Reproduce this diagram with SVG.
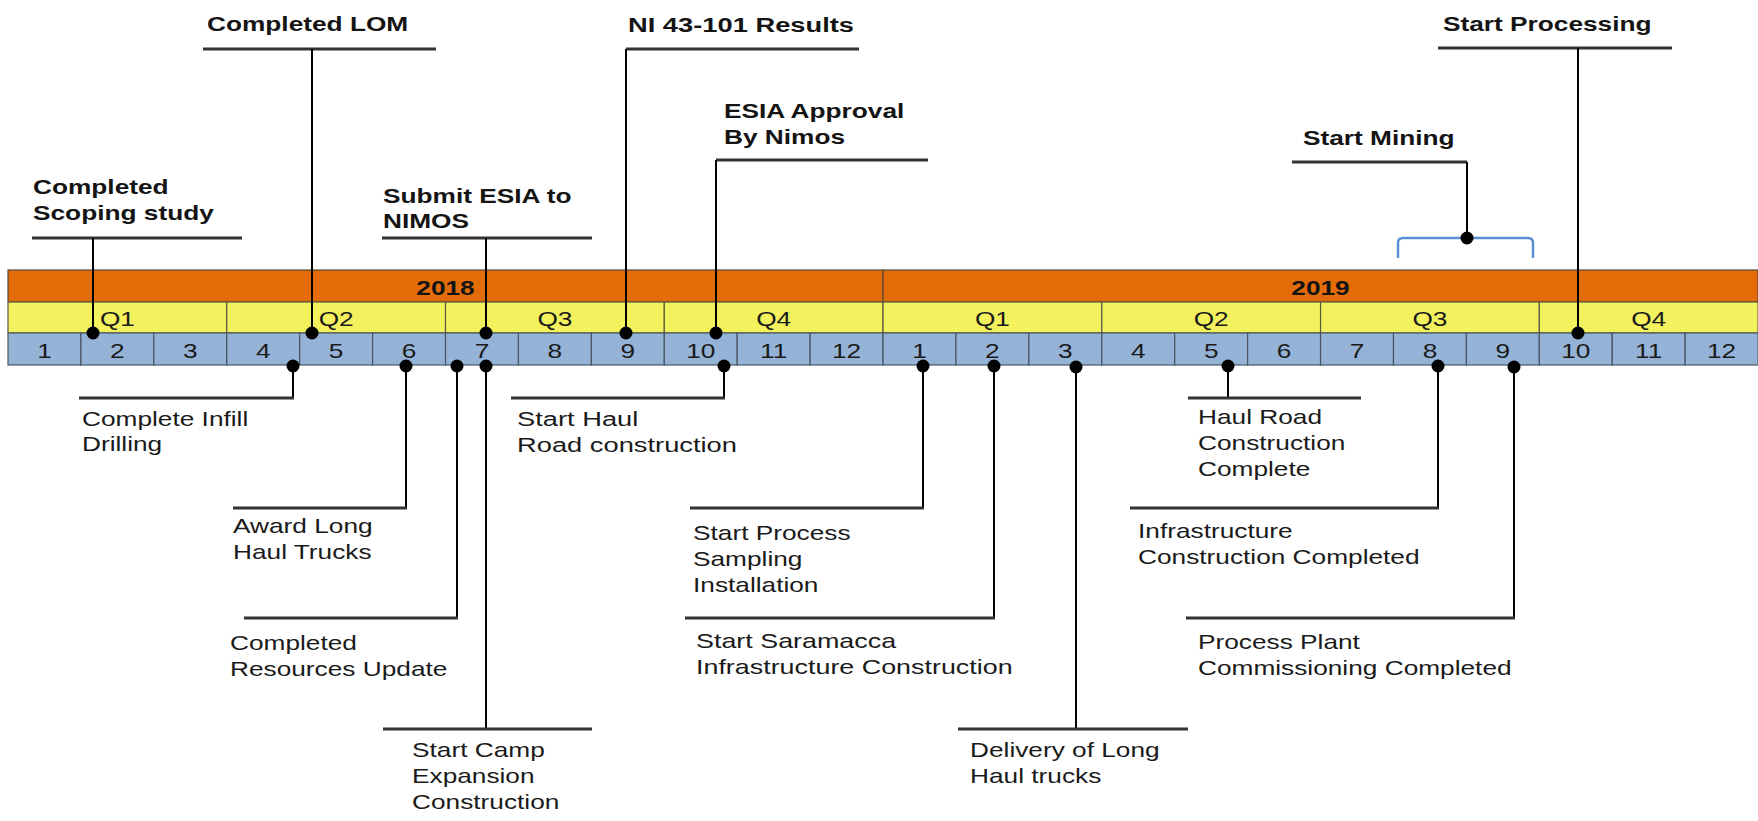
<svg xmlns="http://www.w3.org/2000/svg" width="1758" height="821" viewBox="0 0 1758 821">
<style>
  .b { font-family: "Liberation Sans", Arial, sans-serif; font-weight: bold; font-size: 21px; fill: #141414; }
  .r { font-family: "Liberation Sans", Arial, sans-serif; font-size: 21px; fill: #1a1a1a; }
  .mid { text-anchor: middle; }
  .yr { fill: #E36C09; stroke: #5a4a3a; stroke-width: 1.2; }
  .qt { fill: #F3F15E; stroke: #5a5a40; stroke-width: 1.2; }
  .mo { fill: #95B3D7; stroke: #4a5560; stroke-width: 1.2; }
  .lead { stroke: #333; stroke-width: 3; fill: none; }
  .stem { stroke: #000; stroke-width: 2; fill: none; }
  .dot { fill: #000; }
  .brk { stroke: #5B8ED6; stroke-width: 2.5; fill: none; }
</style>

<g id="timeline-bar">
  <rect class="yr" x="8" y="270" width="875" height="32"/>
  <rect class="yr" x="883" y="270" width="875" height="32"/>
  <g id="quarters">
    <rect class="qt" x="8" y="302" width="218.76" height="31"/>
    <rect class="qt" x="226.76" y="302" width="218.76" height="31"/>
    <rect class="qt" x="445.52" y="302" width="218.76" height="31"/>
    <rect class="qt" x="664.28" y="302" width="218.76" height="31"/>
    <rect class="qt" x="883.04" y="302" width="218.76" height="31"/>
    <rect class="qt" x="1101.8" y="302" width="218.76" height="31"/>
    <rect class="qt" x="1320.56" y="302" width="218.76" height="31"/>
    <rect class="qt" x="1539.32" y="302" width="218.76" height="31"/>
  </g>
  <g id="months">
    <rect class="mo" x="8" y="333" width="72.92" height="32"/>
    <rect class="mo" x="80.92" y="333" width="72.92" height="32"/>
    <rect class="mo" x="153.84" y="333" width="72.92" height="32"/>
    <rect class="mo" x="226.76" y="333" width="72.92" height="32"/>
    <rect class="mo" x="299.68" y="333" width="72.92" height="32"/>
    <rect class="mo" x="372.6" y="333" width="72.92" height="32"/>
    <rect class="mo" x="445.52" y="333" width="72.92" height="32"/>
    <rect class="mo" x="518.44" y="333" width="72.92" height="32"/>
    <rect class="mo" x="591.36" y="333" width="72.92" height="32"/>
    <rect class="mo" x="664.28" y="333" width="72.92" height="32"/>
    <rect class="mo" x="737.2" y="333" width="72.92" height="32"/>
    <rect class="mo" x="810.12" y="333" width="72.92" height="32"/>
    <rect class="mo" x="883.04" y="333" width="72.92" height="32"/>
    <rect class="mo" x="955.96" y="333" width="72.92" height="32"/>
    <rect class="mo" x="1028.88" y="333" width="72.92" height="32"/>
    <rect class="mo" x="1101.8" y="333" width="72.92" height="32"/>
    <rect class="mo" x="1174.72" y="333" width="72.92" height="32"/>
    <rect class="mo" x="1247.64" y="333" width="72.92" height="32"/>
    <rect class="mo" x="1320.56" y="333" width="72.92" height="32"/>
    <rect class="mo" x="1393.48" y="333" width="72.92" height="32"/>
    <rect class="mo" x="1466.4" y="333" width="72.92" height="32"/>
    <rect class="mo" x="1539.32" y="333" width="72.92" height="32"/>
    <rect class="mo" x="1612.24" y="333" width="72.92" height="32"/>
    <rect class="mo" x="1685.16" y="333" width="72.92" height="32"/>
  </g>
  <text class="b mid" transform="translate(445.5,295) scale(1.25,1)">2018</text>
  <text class="b mid" transform="translate(1320.5,295) scale(1.25,1)">2019</text>
  <g id="quarter-labels">
    <text class="r mid" transform="translate(117.38,326) scale(1.25,1)">Q1</text>
    <text class="r mid" transform="translate(336.14,326) scale(1.25,1)">Q2</text>
    <text class="r mid" transform="translate(554.9,326) scale(1.25,1)">Q3</text>
    <text class="r mid" transform="translate(773.66,326) scale(1.25,1)">Q4</text>
    <text class="r mid" transform="translate(992.42,326) scale(1.25,1)">Q1</text>
    <text class="r mid" transform="translate(1211.18,326) scale(1.25,1)">Q2</text>
    <text class="r mid" transform="translate(1429.94,326) scale(1.25,1)">Q3</text>
    <text class="r mid" transform="translate(1648.7,326) scale(1.25,1)">Q4</text>
  </g>
  <g id="month-labels">
    <text class="r mid" transform="translate(44.46,358) scale(1.25,1)">1</text>
    <text class="r mid" transform="translate(117.38,358) scale(1.25,1)">2</text>
    <text class="r mid" transform="translate(190.3,358) scale(1.25,1)">3</text>
    <text class="r mid" transform="translate(263.22,358) scale(1.25,1)">4</text>
    <text class="r mid" transform="translate(336.14,358) scale(1.25,1)">5</text>
    <text class="r mid" transform="translate(409.06,358) scale(1.25,1)">6</text>
    <text class="r mid" transform="translate(481.98,358) scale(1.25,1)">7</text>
    <text class="r mid" transform="translate(554.9,358) scale(1.25,1)">8</text>
    <text class="r mid" transform="translate(627.82,358) scale(1.25,1)">9</text>
    <text class="r mid" transform="translate(700.74,358) scale(1.25,1)">10</text>
    <text class="r mid" transform="translate(773.66,358) scale(1.25,1)">11</text>
    <text class="r mid" transform="translate(846.58,358) scale(1.25,1)">12</text>
    <text class="r mid" transform="translate(919.5,358) scale(1.25,1)">1</text>
    <text class="r mid" transform="translate(992.42,358) scale(1.25,1)">2</text>
    <text class="r mid" transform="translate(1065.34,358) scale(1.25,1)">3</text>
    <text class="r mid" transform="translate(1138.26,358) scale(1.25,1)">4</text>
    <text class="r mid" transform="translate(1211.18,358) scale(1.25,1)">5</text>
    <text class="r mid" transform="translate(1284.1,358) scale(1.25,1)">6</text>
    <text class="r mid" transform="translate(1357.02,358) scale(1.25,1)">7</text>
    <text class="r mid" transform="translate(1429.94,358) scale(1.25,1)">8</text>
    <text class="r mid" transform="translate(1502.86,358) scale(1.25,1)">9</text>
    <text class="r mid" transform="translate(1575.78,358) scale(1.25,1)">10</text>
    <text class="r mid" transform="translate(1648.7,358) scale(1.25,1)">11</text>
    <text class="r mid" transform="translate(1721.62,358) scale(1.25,1)">12</text>
  </g>
</g>

<g id="connectors">
  <!-- top milestones -->
  <path class="lead" d="M32,238 H242"/><path class="stem" d="M93,238 V333"/>
  <path class="lead" d="M203,49 H436"/><path class="stem" d="M312,49 V333"/>
  <path class="lead" d="M382,238 H592"/><path class="stem" d="M486,238 V333"/>
  <path class="lead" d="M626,49 H859"/><path class="stem" d="M626,49 V333"/>
  <path class="lead" d="M716,160 H928"/><path class="stem" d="M716,160 V333"/>
  <path class="lead" d="M1292,162 H1467"/><path class="stem" d="M1467,162 V238"/>
  <path class="brk" d="M1398,258 V243 Q1398,238 1403,238 H1528 Q1533,238 1533,243 V258"/>
  <path class="lead" d="M1438,48 H1672"/><path class="stem" d="M1578,48 V333"/>
  <!-- bottom milestones -->
  <path class="stem" d="M293,366 V398"/><path class="lead" d="M79,398 H294"/>
  <path class="stem" d="M406,366 V508"/><path class="lead" d="M233,508 H407"/>
  <path class="stem" d="M457,366 V618"/><path class="lead" d="M244,618 H458"/>
  <path class="stem" d="M486,366 V729"/><path class="lead" d="M383,729 H592"/>
  <path class="stem" d="M724,366 V398"/><path class="lead" d="M511,398 H725"/>
  <path class="stem" d="M923,366 V508"/><path class="lead" d="M690,508 H924"/>
  <path class="stem" d="M994,366 V618"/><path class="lead" d="M685,618 H995"/>
  <path class="stem" d="M1076,366 V729"/><path class="lead" d="M958,729 H1188"/>
  <path class="stem" d="M1228,366 V398"/><path class="lead" d="M1188,398 H1361"/>
  <path class="stem" d="M1438,366 V508"/><path class="lead" d="M1130,508 H1439"/>
  <path class="stem" d="M1514,366 V618"/><path class="lead" d="M1186,618 H1515"/>
  <!-- dots -->
  <circle class="dot" cx="93" cy="333" r="6.5"/>
  <circle class="dot" cx="312" cy="333" r="6.5"/>
  <circle class="dot" cx="486" cy="333" r="6.5"/>
  <circle class="dot" cx="626" cy="333" r="6.5"/>
  <circle class="dot" cx="716" cy="333" r="6.5"/>
  <circle class="dot" cx="1467" cy="238" r="6.5"/>
  <circle class="dot" cx="1578" cy="333" r="6.5"/>
  <circle class="dot" cx="293" cy="366" r="6.5"/>
  <circle class="dot" cx="406" cy="366" r="6.5"/>
  <circle class="dot" cx="457" cy="366" r="6.5"/>
  <circle class="dot" cx="486" cy="366" r="6.5"/>
  <circle class="dot" cx="724" cy="366" r="6.5"/>
  <circle class="dot" cx="923" cy="366" r="6.5"/>
  <circle class="dot" cx="994" cy="366" r="6.5"/>
  <circle class="dot" cx="1076" cy="367" r="6.5"/>
  <circle class="dot" cx="1228" cy="366" r="6.5"/>
  <circle class="dot" cx="1438" cy="366" r="6.5"/>
  <circle class="dot" cx="1514" cy="367" r="6.5"/>
</g>

<g id="m-scoping"><text class="b" transform="translate(33,194) scale(1.25,1)"><tspan x="0">Completed</tspan><tspan x="0" dy="26">Scoping study</tspan></text></g>
<g id="m-lom"><text class="b" transform="translate(207,31) scale(1.25,1)">Completed LOM</text></g>
<g id="m-submit-esia"><text class="b" transform="translate(383,203) scale(1.25,1)"><tspan x="0">Submit ESIA to</tspan><tspan x="0" dy="25">NIMOS</tspan></text></g>
<g id="m-ni43"><text class="b" transform="translate(628,32) scale(1.3,1)">NI 43-101 Results</text></g>
<g id="m-esia-approval"><text class="b" transform="translate(724,118) scale(1.25,1)"><tspan x="0">ESIA Approval</tspan><tspan x="0" dy="26">By Nimos</tspan></text></g>
<g id="m-start-mining"><text class="b" transform="translate(1303,145) scale(1.25,1)">Start Mining</text></g>
<g id="m-start-processing"><text class="b" transform="translate(1443,31) scale(1.25,1)">Start Processing</text></g>

<g id="m-infill"><text class="r" transform="translate(82,426) scale(1.25,1)"><tspan x="0">Complete  Infill</tspan><tspan x="0" dy="25">Drilling</tspan></text></g>
<g id="m-award"><text class="r" transform="translate(233,533) scale(1.25,1)"><tspan x="0">Award  Long</tspan><tspan x="0" dy="26">Haul Trucks</tspan></text></g>
<g id="m-resources"><text class="r" transform="translate(230,650) scale(1.25,1)"><tspan x="0">Completed</tspan><tspan x="0" dy="26">Resources Update</tspan></text></g>
<g id="m-camp"><text class="r" transform="translate(412,757) scale(1.25,1)"><tspan x="0">Start Camp</tspan><tspan x="0" dy="26">Expansion</tspan><tspan x="0" dy="26">Construction</tspan></text></g>
<g id="m-haul-start"><text class="r" transform="translate(517,426) scale(1.3,1)"><tspan x="0">Start Haul</tspan><tspan x="0" dy="26">Road construction</tspan></text></g>
<g id="m-sampling"><text class="r" transform="translate(693,540) scale(1.25,1)"><tspan x="0">Start Process</tspan><tspan x="0" dy="26">Sampling</tspan><tspan x="0" dy="26">Installation</tspan></text></g>
<g id="m-saramacca"><text class="r" transform="translate(696,648) scale(1.28,1)"><tspan x="0">Start Saramacca</tspan><tspan x="0" dy="26">Infrastructure Construction</tspan></text></g>
<g id="m-delivery"><text class="r" transform="translate(970,757) scale(1.25,1)"><tspan x="0">Delivery of Long</tspan><tspan x="0" dy="26">Haul trucks</tspan></text></g>
<g id="m-haul-complete"><text class="r" transform="translate(1198,424) scale(1.25,1)"><tspan x="0">Haul Road</tspan><tspan x="0" dy="26">Construction</tspan><tspan x="0" dy="26">Complete</tspan></text></g>
<g id="m-infrastructure"><text class="r" transform="translate(1138,538) scale(1.25,1)"><tspan x="0">Infrastructure</tspan><tspan x="0" dy="26">Construction Completed</tspan></text></g>
<g id="m-process-plant"><text class="r" transform="translate(1198,649) scale(1.25,1)"><tspan x="0">Process Plant</tspan><tspan x="0" dy="26">Commissioning  Completed</tspan></text></g>
</svg>
